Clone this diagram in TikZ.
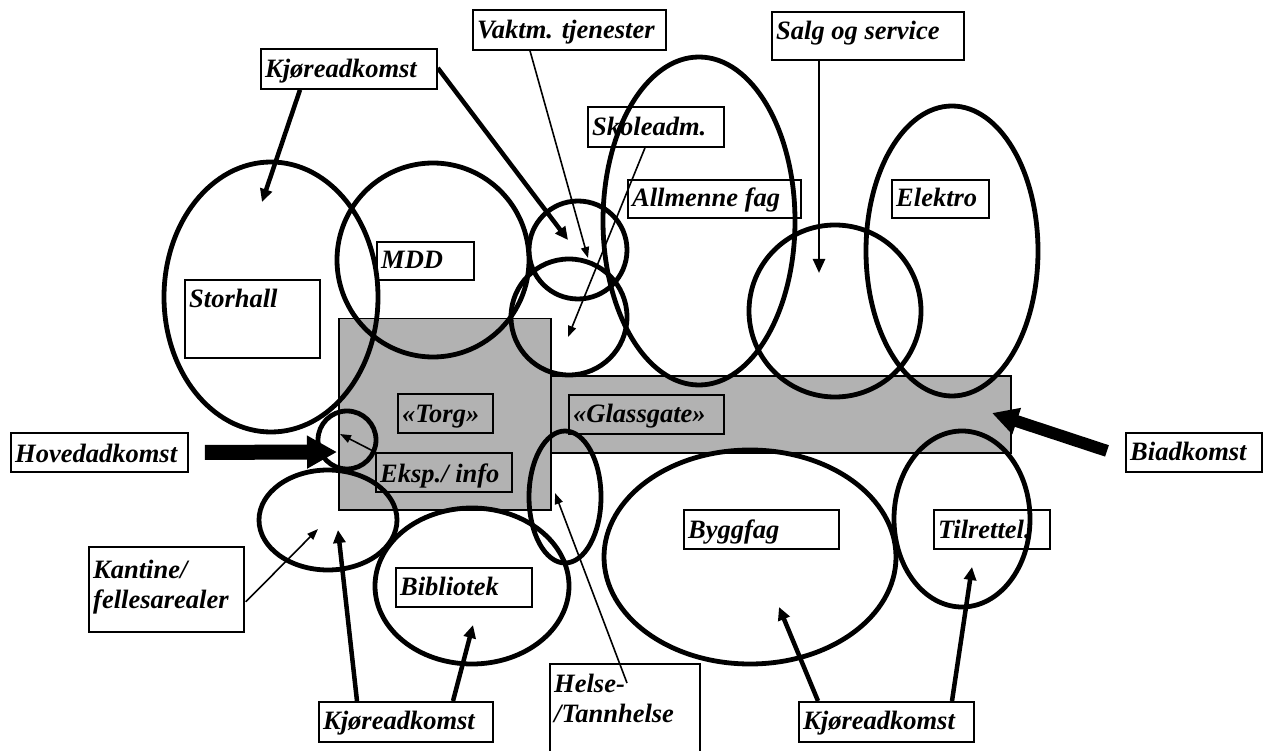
\documentclass[tikz,border=0pt]{standalone}
\usepackage{fontspec}
\setmainfont{Liberation Serif}
\usetikzlibrary{arrows.meta,shapes.geometric,calc}
\definecolor{areagray}{RGB}{178,178,178}
\newcommand{\mkbox}[7]{%
  \node[lbl, minimum width={#4-#2}, minimum height={#5-#3}] (#1) at (#2,#3) {};
  \node[txt] (#1-t) at ($(#1.north west)+(5,#6)$) {#7};
}
\begin{document}
\begin{tikzpicture}[x=1pt,y=-1pt,
  lbl/.style={draw, line width=1.8pt, rectangle, inner sep=0pt, anchor=north west},
  txt/.style={inner sep=0pt, anchor=base west, font=\bfseries\itshape\fontsize{26.5}{30}\selectfont},
  ell/.style={draw, ellipse, line width=4.8pt, inner sep=0pt},
  area/.style={draw, line width=1.5pt, fill=areagray, rectangle, inner sep=0pt, anchor=north west},
  thickarrow/.style={line width=4.5pt, -{Triangle[length=13pt,width=12pt]}},
  thinarrow/.style={line width=1.6pt, -{Triangle[length=11pt,width=8pt]}},
  midarrow/.style={line width=2.5pt, -{Triangle[length=14pt,width=12pt]}},
  bigarrow/.style={line width=15pt, -{Triangle[length=30pt,width=31pt]}},
  bigarrowb/.style={line width=12pt, -{Triangle[length=26pt,width=26pt]}}]
\useasboundingbox (0,0) rectangle (1264,751);
\fill[white] (0,0) rectangle (1264,751);

% gray areas
\node[area, minimum width=460, minimum height=77] (glass) at (550,375) {};
\node[area, minimum width=212, minimum height=191] (torg) at (338,318) {};

% label boxes
\mkbox{kjTop}{260}{48}{436}{88}{30}{Kjøreadkomst}
\mkbox{vakt}{472}{9}{665}{49}{30}{Vaktm. tjenester}
\mkbox{salg}{771}{11}{963}{59}{29}{Salg og service}
\mkbox{skole}{587}{106}{723}{146}{30}{Skoleadm.}
\mkbox{allm}{627}{179}{800}{217}{28}{Allmenne fag}
\mkbox{elek}{891}{179}{988}{217}{28}{Elektro}
\mkbox{mdd}{376}{241}{473}{279}{28}{MDD}
\mkbox{stor}{184}{279}{319}{357}{29}{Storhall}
\mkbox{torgL}{397}{393}{492}{432}{29}{«Torg»}
\mkbox{glassL}{568}{394}{723}{433}{28}{«Glassgate»}
\mkbox{eksp}{375}{452}{511}{491}{30}{Eksp./ info}
\mkbox{hoved}{10}{432}{187}{471}{30}{Hovedadkomst}
\mkbox{biad}{1125}{432}{1261}{471}{28}{Biadkomst}
\mkbox{bibl}{395}{567}{531}{606}{28}{Bibliotek}
\mkbox{bygg}{683}{509}{838}{548}{29}{Byggfag}
\mkbox{tilr}{933}{509}{1049}{548}{29}{Tilrettel.}
\mkbox{kjBL}{318}{701}{492}{741}{28}{Kjøreadkomst}
\mkbox{kjBR}{798}{701}{973}{741}{28}{Kjøreadkomst}
\node[lbl, minimum width=155, minimum height=85] (kant) at (88,546) {};
\node[txt] (kant-t1) at ($(kant.north west)+(5,32)$) {Kantine/};
\node[txt] (kant-t2) at ($(kant.north west)+(5,62)$) {fellesarealer};
\node[lbl, minimum width=150, minimum height=110] (helse) at (549,663) {};
\node[txt] (helse-t1) at ($(helse.north west)+(5,29)$) {Helse-};
\node[txt] (helse-t2) at ($(helse.north west)+(5,59)$) {/Tannhelse};

% ellipses
\node[ell, minimum width=214, minimum height=270] (storE) at (271,297) {};
\node[ell, minimum width=192, minimum height=194] (mddE) at (433,260) {};
\node[ell, minimum width=98, minimum height=98] (vaktE) at (578,250) {};
\node[ell, minimum width=116, minimum height=116] (skoleE) at (569,317) {};
\node[ell, minimum width=192, minimum height=328] (allmE) at (699,221) {};
\node[ell, minimum width=172, minimum height=172] (salgE) at (835,311) {};
\node[ell, minimum width=172, minimum height=290] (elekE) at (952,251) {};
\node[ell, minimum width=58, minimum height=58] (ekspE) at (347,440) {};
\node[ell, minimum width=138, minimum height=100] (kantE) at (328,520) {};
\node[ell, minimum width=194, minimum height=156] (biblE) at (472,586) {};
\node[ell, minimum width=72, minimum height=132] (helseE) at (565,497) {};
\node[ell, minimum width=292, minimum height=214] (byggE) at (750,557) {};
\node[ell, minimum width=136, minimum height=176] (tilrE) at (962,519) {};

% arrow tips
\coordinate (t1) at (262,202);
\coordinate (t2) at (568,240);
\coordinate (t3) at (588,258);
\coordinate (t4) at (568,337);
\coordinate (t5) at (819,273);
\coordinate (t6) at (337,452);
\coordinate (t7) at (992,413);
\coordinate (t8) at (340,434);
\coordinate (t9) at (318,529);
\coordinate (t10) at (338,530);
\coordinate (t11) at (473,625);
\coordinate (t12) at (555,493);
\coordinate (t13) at (779,607);
\coordinate (t14) at (972,567);

% arrows
\draw[thickarrow] ($(kjTop.south west)+(40,0)$) -- (t1);
\draw[thickarrow] ($(kjTop.north east)+(0,20)$) -- (t2);
\draw[thinarrow] ($(vakt.south west)+(58,0)$) -- (t3);
\draw[thinarrow] ($(skole.south west)+(58,0)$) -- (t4);
\draw[midarrow] ($(salg.south west)+(48,0)$) -- (t5);
\draw[bigarrow] ($(hoved.east)+(16,0)$) -- (t6);
\draw[bigarrowb] ($(biad.west)+(-18,-1.5)$) -- (t7);
\draw[thinarrow] (eksp.north west) -- (t8);
\draw[thinarrow] ($(kant.south east)+(1,-31)$) -- (t9);
\draw[thickarrow] ($(kjBL.north west)+(39,0)$) -- (t10);
\draw[thickarrow] ($(kjBL.north west)+(135,0)$) -- (t11);
\draw[thinarrow] ($(helse.north west)+(78,20)$) -- (t12);
\draw[thickarrow] ($(kjBR.north west)+(20,0)$) -- (t13);
\draw[thickarrow] ($(kjBR.north west)+(154,0)$) -- (t14);
\end{tikzpicture}
\end{document}
